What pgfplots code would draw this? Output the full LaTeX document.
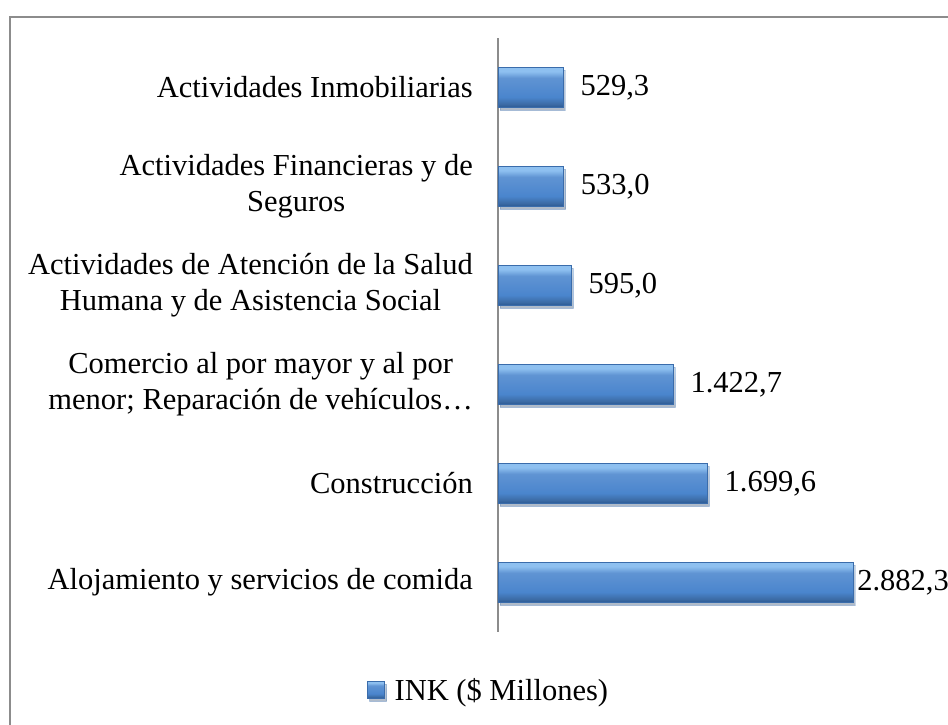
\documentclass[border=0pt]{standalone}
\usepackage{pgfplots}
\pgfplotsset{compat=1.18}
\usetikzlibrary{shadows}
\usepackage{fontspec}
\setmainfont{Liberation Serif}
\definecolor{barmid}{HTML}{4A85CD}
\definecolor{bartop}{HTML}{8EC0F0}
\definecolor{barbot}{HTML}{2A5894}
\definecolor{barline}{HTML}{3A6CAB}
\definecolor{frame}{HTML}{8C8C8C}
\pgfdeclareverticalshading{bevel}{100bp}{color(0bp)=(barbot); color(25bp)=(barbot); color(29bp)=(barmid!80!black); color(38bp)=(barmid); color(62bp)=(barmid!88!white); color(70bp)=(bartop); color(75bp)=(bartop); color(100bp)=(bartop)}
\tikzset{bevelbar/.style={draw=barline, line width=0.6pt, shading=bevel, shade,
  drop shadow={shadow xshift=2pt, shadow yshift=-3pt, opacity=0.25, fill=black!60}}}
\begin{document}
\begin{tikzpicture}[x=1pt,y=1pt]
\begin{axis}[
  at={(498pt,93pt)}, anchor=south west,
  scale only axis, width=442pt, height=594pt,
  xbar, bar width=40pt, bar shift=0pt,
  xmin=0, xmax=3588,
  ymin=-0.5, ymax=5.5,
  axis x line=none,
  axis y line*=left,
  y axis line style={frame, line width=1.2pt, -},
  ytick={0,1,2,3,4,5},
  yticklabels={
    {Alojamiento y servicios de comida},
    {Construcción},
    {Comercio al por mayor y al por\\menor; Reparación de vehículos…},
    {Actividades de Atención de la Salud\\Humana y de Asistencia Social},
    {Actividades Financieras y de\\Seguros},
    {Actividades Inmobiliarias}},
  major tick length=0pt,
  yticklabel style={align=center, inner sep=0pt, xshift=-25pt,
    font=\fontsize{30.5}{36}\selectfont},
  point meta=explicit symbolic,
  nodes near coords,
  nodes near coords style={anchor=west, inner sep=0pt, xshift=17pt,
    font=\fontsize{30.5}{36}\selectfont, text=black},
  clip=false,
  legend style={at={(-0.021,-0.098)}, anchor=center, draw=none, fill=none,
    font=\fontsize{30.5}{36}\selectfont, inner sep=0pt,
    legend cell align=left},
  legend image code/.code={
    \path[draw=barline, line width=0.6pt, shading=bevel, shade]
      (0pt,-8pt) rectangle (17pt,9pt);
    \pgfpathmoveto{\pgfpoint{25pt}{0pt}}\pgfusepath{}},
]
\addplot[bevelbar] coordinates {(529.3,5) [529,3]};
\addlegendentry{INK (\$ Millones)}
\addplot[bevelbar, forget plot] coordinates {(533.0,4) [533,0]};
\addplot[bevelbar, forget plot] coordinates {(595.0,3) [595,0]};
\addplot[bevelbar, forget plot] coordinates {(1422.7,2) [1.422,7]};
\addplot[bevelbar, forget plot] coordinates {(1699.6,1) [1.699,6]};
\addplot[bevelbar, forget plot, nodes near coords style={xshift=-13pt}] coordinates {(2882.3,0) [2.882,3]};
\end{axis}
\draw[frame, line width=1.5pt] (10,-5) -- (10,708) -- (960,708);
\pgfresetboundingbox
\path (0,0) rectangle (948,725);
\end{tikzpicture}
\end{document}
